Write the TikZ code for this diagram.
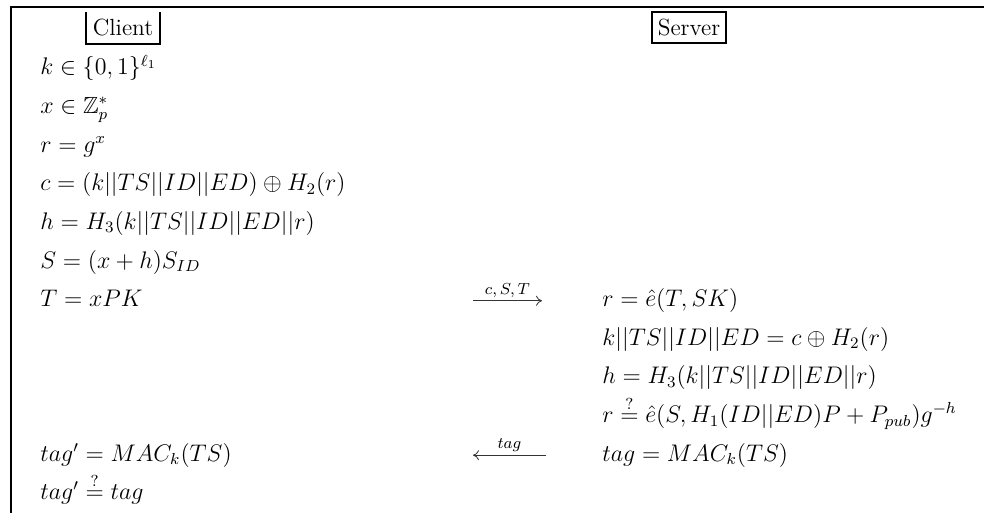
\documentclass[tikz,border=0pt]{standalone}
\usepackage{amsmath,amssymb}
\usetikzlibrary{arrows.meta}
\begin{document}
\begin{tikzpicture}[x=0.5pt,y=-0.5pt,
  every node/.style={font=\fontsize{11.7}{14}\selectfont},
  lt/.style={anchor=base west, inner sep=0pt},
  party/.style={inner sep=0pt, minimum width=37pt, minimum height=15.5pt},
  frame/.style={line width=1.1pt},
  msg/.style={line width=0.4pt, draw=black!80},
  lbl/.style={font=\fontsize{8.5}{10}\selectfont, inner sep=1.5pt, above}]
\useasboundingbox (0,0) rectangle (984,513);
\draw[frame] (10,7) coordinate (fa) -- (984,7) coordinate (fb);
\draw[frame] (11,6.5) coordinate (fc) -- (11,513) coordinate (fd);
% parties
\node[party] (client) at (123,28) {Client};
\draw[line width=1pt] (client.north west) |- (client.south east) -- (client.north east);
\node[party, draw, line width=1pt] (server) at (689,27.5) {Server};
% client column
\def\L{40}
\node[lt] (c1) at (\L,75) {$k\in\{0,1\}^{\ell_1}$};
\node[lt] (c2) at (\L,113.6) {$x\in\mathbb{Z}_p^*$};
\node[lt] (c3) at (\L,152.2) {$r=g^x$};
\node[lt] (c4) at (\L,190.8) {$c=(k||TS||ID||ED)\oplus H_2(r)$};
\node[lt] (c5) at (\L,229.4) {$h=H_3(k||TS||ID||ED||r)$};
\node[lt] (c6) at (\L,268) {$S=(x+h)S_{ID}$};
\node[lt] (c7) at (\L,306.6) {$T=xPK$};
\node[lt] (c8) at (\L,461) {$tag'=MAC_k(TS)$};
\node[lt] (c9) at (\L,499.6) {$tag'\stackrel{?}{=}tag$};
% server column
\def\R{602}
\node[lt] (s1) at (\R,306.6) {$r=\hat{e}(T,SK)$};
\node[lt] (s2) at (\R,345.2) {$k||TS||ID||ED=c\oplus H_2(r)$};
\node[lt] (s3) at (\R,383.8) {$h=H_3(k||TS||ID||ED||r)$};
\node[lt] (s4) at (\R,422.4) {$r\stackrel{?}{=}\hat{e}(S,H_1(ID||ED)P+P_{pub})g^{-h}$};
\node[lt] (s5) at (\R,461) {$tag=MAC_k(TS)$};
% messages
\coordinate (m1a) at (473,300.8);
\coordinate (m1b) at (542,300.8);
\draw[msg, -{Computer Modern Rightarrow[length=3pt,width=5pt]}] (m1a) -- (m1b)
  node[lbl, midway] (m1) {$c,S,T$};
\coordinate (m2a) at (546,455.2);
\coordinate (m2b) at (473,455.2);
\draw[msg, -{Computer Modern Rightarrow[length=3pt,width=5pt]}] (m2a) -- (m2b)
  node[lbl, midway] (m2) {$tag$};
\end{tikzpicture}
\end{document}
